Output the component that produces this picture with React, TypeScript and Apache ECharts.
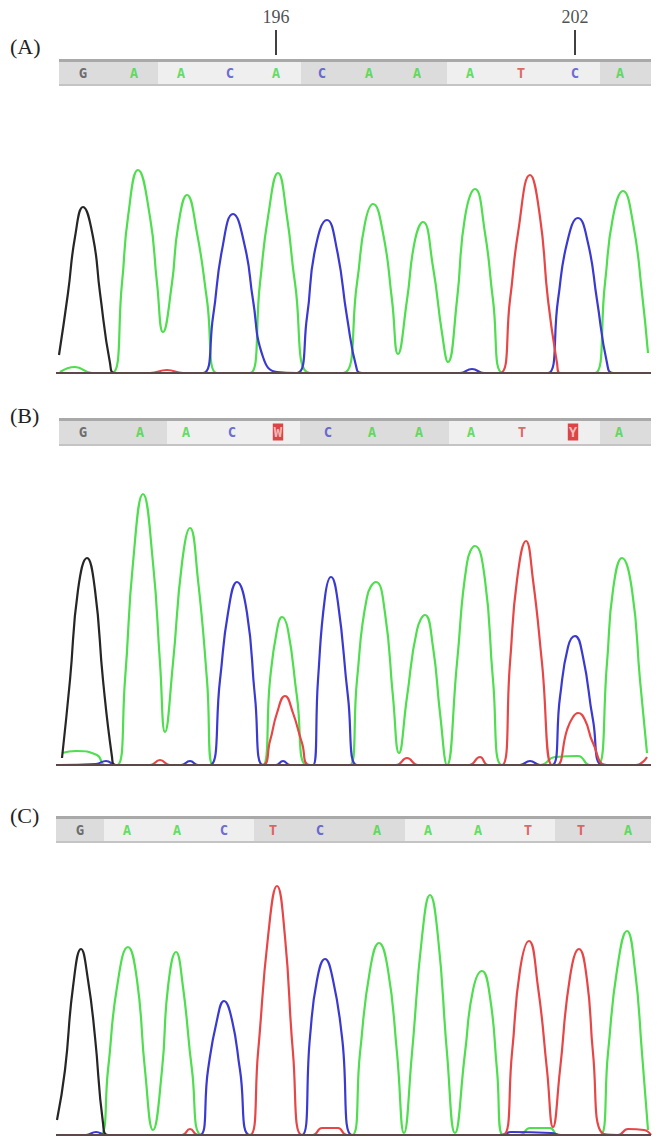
import React, { useEffect, useRef } from 'react';
import * as echarts from 'echarts';

type Pt = [number, number];

// ---------- base calls (letters) and their trace positions ----------
const basesA = ['G', 'A', 'A', 'C', 'A', 'C', 'A', 'A', 'A', 'T', 'C', 'A'];
const basesB = ['G', 'A', 'A', 'C', 'W', 'C', 'A', 'A', 'A', 'T', 'Y', 'A'];
const basesC = ['G', 'A', 'A', 'C', 'T', 'C', 'A', 'A', 'A', 'T', 'T', 'A'];
const basePosA = [27, 78, 125, 174, 220, 266, 313, 361, 414, 465, 519, 564];
const basePosB = [27, 84, 130, 176, 222, 272, 316, 363, 415, 466, 517, 563];
const basePosC = [24, 71, 121, 168, 217, 264, 321, 372, 422, 472, 525, 572];

// position numbering shown above panel A
const firstBaseNumber = 192;
const rulerNumbers = [196, 202];

// darker shaded blocks of the base-call strip
const shadeA: Pt[] = [[3, 102], [245, 391], [544, 595]];
const shadeB: Pt[] = [[3, 111], [244, 393], [544, 595]];
const shadeC: Pt[] = [[0, 48], [198, 349], [499, 595]];

// ---------- trace control points [scan, intensity] ----------
const traceA_G: Pt[] = [[3, 18], [12, 80], [19, 136], [27, 166], [37, 136], [44, 80], [54, 10], [59, 0], [595, 0]];
const traceA_A: Pt[] = [[4, 1], [19, 6], [36, 0], [56, 0], [66, 90], [72, 156], [82, 203], [94, 156], [101, 90], [107, 41], [116, 90], [122, 146], [131, 178], [141, 140], [151, 73], [161, 0], [194, 0], [204, 90], [212, 156], [222, 200], [231, 156], [239, 90], [254, 0], [287, 0], [301, 90], [309, 150], [317, 169], [327, 140], [336, 73], [342, 19], [351, 73], [359, 133], [367, 151], [377, 106], [386, 40], [392, 11], [401, 73], [409, 156], [419, 184], [429, 140], [437, 73], [447, 0], [539, 0], [549, 90], [557, 156], [567, 182], [577, 150], [586, 80], [592, 20]];
const traceA_C: Pt[] = [[3, 0], [147, 0], [157, 56], [166, 123], [177, 159], [189, 126], [197, 73], [207, 16], [221, 1], [241, 0], [251, 56], [259, 123], [271, 153], [281, 123], [291, 56], [301, 3], [306, 0], [404, 0], [416, 4], [428, 0], [492, 0], [502, 73], [511, 130], [522, 155], [532, 130], [541, 73], [551, 10], [557, 0], [595, 0]];
const traceA_T: Pt[] = [[3, 0], [94, 0], [111, 3], [127, 0], [444, 0], [454, 73], [462, 140], [474, 198], [484, 156], [492, 73], [501, 10], [504, 0], [595, 0]];

const traceB_G: Pt[] = [[6, 7], [14, 85], [22, 175], [31, 207], [39, 175], [47, 85], [56, 8], [59, 0], [595, 0]];
const traceB_A: Pt[] = [[6, 12], [20, 14], [41, 10], [49, 0], [61, 0], [69, 85], [77, 202], [87, 271], [97, 202], [104, 102], [109, 33], [117, 102], [126, 202], [134, 237], [142, 185], [151, 85], [157, 0], [207, 0], [214, 85], [221, 135], [226, 148], [232, 135], [241, 68], [251, 0], [294, 0], [301, 85], [311, 168], [320, 183], [329, 152], [337, 68], [343, 12], [351, 68], [361, 135], [369, 150], [377, 118], [384, 52], [391, 0], [401, 102], [411, 202], [419, 219], [429, 185], [437, 85], [446, 0], [484, 0], [499, 8], [522, 9], [534, 0], [542, 0], [551, 102], [557, 175], [566, 207], [576, 175], [584, 85], [591, 12]];
const traceB_C: Pt[] = [[3, 0], [40, 1], [50, 4], [60, 0], [125, 0], [134, 4], [142, 0], [154, 0], [164, 85], [172, 152], [181, 183], [191, 152], [199, 68], [207, 0], [220, 0], [227, 4], [234, 0], [257, 0], [262, 85], [269, 168], [275, 188], [282, 162], [292, 68], [301, 0], [464, 0], [474, 4], [484, 0], [496, 0], [504, 68], [512, 118], [519, 129], [527, 108], [537, 45], [547, 0], [595, 0]];
const traceB_T: Pt[] = [[3, 0], [94, 0], [104, 5], [114, 0], [206, 0], [214, 24], [221, 52], [229, 69], [237, 52], [246, 22], [254, 0], [340, 0], [351, 7], [362, 0], [413, 0], [424, 8], [432, 0], [446, 0], [454, 102], [461, 185], [470, 224], [477, 185], [486, 102], [496, 0], [501, 0], [511, 35], [517, 48], [522, 52], [529, 45], [537, 22], [551, 0], [580, 0], [591, 8]];

const traceC_G: Pt[] = [[1, 15], [9, 65], [17, 148], [25, 186], [32, 155], [39, 98], [47, 12], [52, 0], [595, 0]];
const traceC_A: Pt[] = [[0, 0], [44, 0], [52, 65], [61, 148], [72, 188], [81, 155], [89, 65], [97, 5], [106, 65], [112, 148], [120, 183], [127, 148], [136, 65], [146, 0], [296, 0], [304, 82], [314, 165], [323, 192], [332, 165], [341, 82], [348, 2], [356, 82], [366, 198], [374, 240], [382, 198], [391, 82], [399, 2], [409, 82], [417, 145], [426, 164], [434, 138], [441, 65], [447, 0], [464, 0], [474, 7], [494, 7], [502, 0], [544, 0], [552, 82], [561, 165], [571, 204], [579, 165], [586, 82], [592, 5]];
const traceC_C: Pt[] = [[0, 0], [30, 0], [40, 3], [50, 0], [144, 0], [152, 65], [161, 115], [168, 134], [176, 115], [184, 65], [194, 0], [246, 0], [254, 98], [261, 155], [269, 176], [277, 155], [286, 98], [296, 0], [445, 0], [455, 3], [495, 2], [505, 0], [595, 0]];
const traceC_T: Pt[] = [[0, 0], [126, 0], [134, 6], [142, 0], [194, 0], [202, 82], [212, 198], [221, 249], [229, 198], [237, 82], [246, 0], [257, 0], [266, 7], [282, 7], [291, 0], [447, 0], [456, 82], [464, 165], [473, 194], [482, 148], [491, 65], [497, 8], [504, 65], [514, 158], [523, 186], [531, 155], [537, 82], [546, 2], [562, 0], [572, 6], [588, 5], [595, 0]];

const panelLabels = ['(A)', '(B)', '(C)'];

// ---------- styling ----------
const traceColor: Record<string, string> = { A: '#4ede4e', C: '#3a3ad2', G: '#262626', T: '#e84646' };
const letterColor: Record<string, string> = { A: '#3fd83f', C: '#4a4acb', G: '#505050', T: '#d84444' };
const ambiguous = new Set(['W', 'Y']);

function buildOption() {
  const grids: any[] = [
    { left: 56, top: 30, width: 595, height: 25 }, // 0 ruler
    { left: 59, top: 60, width: 592, height: 25, show: true, backgroundColor: '#efefef', borderWidth: 0 }, // 1 strip A
    { left: 56, top: 150, width: 595, height: 223 }, // 2 trace A
    { left: 59, top: 419, width: 592, height: 26, show: true, backgroundColor: '#efefef', borderWidth: 0 }, // 3 strip B
    { left: 56, top: 480, width: 595, height: 285 }, // 4 trace B
    { left: 56, top: 817, width: 595, height: 25, show: true, backgroundColor: '#efefef', borderWidth: 0 }, // 5 strip C
    { left: 56, top: 870, width: 595, height: 265 }, // 6 trace C
  ];
  const xMin = [0, 3, 0, 3, 0, 0, 0];
  const yMax = [1, 1, 223, 1, 285, 1, 265];
  const xAxis = grids.map((_, i) => ({ gridIndex: i, type: 'value', min: xMin[i], max: 595, show: false }));
  const yAxis = grids.map((_, i) => ({ gridIndex: i, type: 'value', min: 0, max: yMax[i], show: false }));

  const series: any[] = [];

  // ruler above A
  series.push({
    type: 'scatter', xAxisIndex: 0, yAxisIndex: 0, silent: true,
    symbol: 'rect', symbolSize: [2, 25], itemStyle: { color: '#111' },
    data: rulerNumbers.map((n) => ({ value: [basePosA[n - firstBaseNumber], 0.5], name: String(n) })),
    label: {
      show: true, position: 'top', distance: 4, formatter: (p: any) => p.name,
      fontFamily: 'Liberation Serif', fontSize: 18, color: '#222',
    },
  });

  const strip = (gi: number, bases: string[], pos: number[], shade: Pt[]) => {
    series.push({
      type: 'scatter', xAxisIndex: gi, yAxisIndex: gi, silent: true,
      symbol: 'circle', symbolSize: 1, itemStyle: { color: 'transparent' },
      data: bases.map((b, i) => ({
        value: [pos[i], 0.5], name: b,
        label: ambiguous.has(b)
          ? { color: '#ffd8d8', backgroundColor: '#d41c1c', padding: [2, 1, 1, 1] }
          : { color: letterColor[b] },
      })),
      label: {
        show: true, position: 'inside', formatter: (p: any) => p.name,
        fontFamily: 'DejaVu Sans Mono', fontWeight: 'bold', fontSize: 14,
      },
      markArea: {
        silent: true, itemStyle: { color: '#dcdcdc' },
        data: shade.map(([a, b]) => [{ xAxis: a }, { xAxis: b }]),
      },
      markLine: {
        silent: true, symbol: 'none', label: { show: false },
        data: [
          { yAxis: 1, lineStyle: { color: '#a9a9a9', width: 3, type: 'solid' } },
          { yAxis: 0, lineStyle: { color: '#c4c4c4', width: 2, type: 'solid' } },
        ],
      },
    });
  };
  strip(1, basesA, basePosA, shadeA);
  strip(3, basesB, basePosB, shadeB);
  strip(5, basesC, basePosC, shadeC);

  const traces = (gi: number, chans: [string, Pt[]][]) => {
    chans.forEach(([b, data], k) => {
      series.push({
        type: 'line', xAxisIndex: gi, yAxisIndex: gi, silent: true, clip: false,
        data, smooth: 0.5, symbol: 'none', showSymbol: false,
        lineStyle: { color: traceColor[b], width: 2.2 },
        markLine: k === chans.length - 1 ? {
          silent: true, symbol: 'none', label: { show: false },
          data: [{ yAxis: 0 }],
          lineStyle: { color: '#5c4848', width: 2, type: 'solid' },
        } : undefined,
      });
    });
  };
  traces(2, [['A', traceA_A], ['C', traceA_C], ['T', traceA_T], ['G', traceA_G]]);
  traces(4, [['A', traceB_A], ['C', traceB_C], ['T', traceB_T], ['G', traceB_G]]);
  traces(6, [['A', traceC_A], ['C', traceC_C], ['T', traceC_T], ['G', traceC_G]]);

  const labelTops = [30, 399, 799];
  const title = panelLabels.map((t, i) => ({
    text: t, left: 5, top: labelTops[i],
    textStyle: { fontFamily: 'Liberation Serif', fontSize: 22, fontWeight: 'normal', color: '#222' },
  }));

  return { animation: false, backgroundColor: '#ffffff', title, grid: grids, xAxis, yAxis, series };
}

export default function App() {
  const ref = useRef<HTMLDivElement>(null);
  useEffect(() => {
    document.body.style.margin = '0';
    const chart = echarts.init(ref.current!, null, { renderer: 'svg' });
    chart.setOption(buildOption() as any);
    return () => chart.dispose();
  }, []);
  return <div ref={ref} style={{ width: 663, height: 1144 }} />;
}
